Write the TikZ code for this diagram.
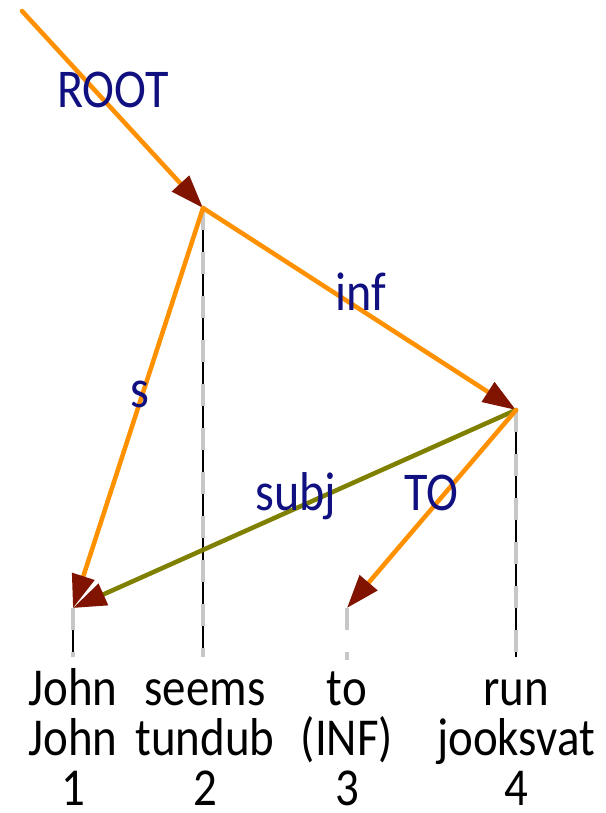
\documentclass[tikz,border=0pt]{standalone}
\usepackage{fontspec}
\newfontfamily\treefont[FakeStretch=0.88]{Carlito}
\newcommand\wordfont{\treefont\fontsize{40}{37.5}\selectfont\lineskiplimit=-40pt\relax}
\usetikzlibrary{arrows.meta}
\definecolor{edgeorange}{RGB}{255,145,0}
\definecolor{edgeolive}{RGB}{128,128,0}
\definecolor{tipred}{RGB}{128,20,0}
\definecolor{labelblue}{RGB}{16,16,128}
\tikzset{
	dep/.style={line width=3.4pt, draw=edgeorange, line cap=round,
		-{Triangle[length=25pt, width=17pt, color=tipred]}},
	deplabel/.style={anchor=base, inner sep=0pt, text=labelblue,
		font=\treefont\fontsize{41}{41}\selectfont},
	projline/.style={line width=0.8pt, draw=black},
	projdash/.style={line width=3pt, draw=black!22, dash pattern=on 16.5pt off 16.5pt},
	wordcol/.style={anchor=base, align=center, inner sep=0pt, text depth=0pt, font=\wordfont}
}
\begin{document}
\begin{tikzpicture}[x=0.75pt, y=-0.75pt]
		\useasboundingbox (0,0) rectangle (606,813);
		% Puntos de los nodos del arbol
		\coordinate (top) at (22,11);
		\coordinate (john) at (73,608);
		\coordinate (seems) at (203,208);
		\coordinate (to) at (347,608);
		\coordinate (run) at (516,410);
		% Pies de las proyecciones
		\coordinate (johnfoot) at (73,657);
		\coordinate (seemsfoot) at (203,657);
		\coordinate (tofoot) at (347,660);
		\coordinate (runfoot) at (516,657);
		% Proyecciones verticales
		\draw[projline] (john) -- (johnfoot);
		\draw[projline] (seems) -- (seemsfoot);
		\draw[projline] (run) -- (runfoot);
		\draw[projdash] (john) -- (johnfoot);
		\draw[projdash] (seems) -- (seemsfoot);
		\draw[projdash] (to) -- (tofoot);
		\draw[projdash] (run) -- (runfoot);
		% Dependencias
		\draw[dep] (top) -- (seems);
		\draw[dep] (seems) -- (run);
		\draw[dep] (seems) -- (john);
		\draw[dep, draw=edgeolive] (run) -- (john);
		\draw[dep] (run) -- (to);
		% Etiquetas de las dependencias
		\node[deplabel] (lroot) at (113,108) {ROOT};
		\node[deplabel] (linf) at (361,310) {inf};
		\node[deplabel] (ls) at (140,407) {s};
		\node[deplabel] (lsubj) at (296,510) {subj};
		\node[deplabel] (lto) at (431,510) {TO};
		% Palabras, glosas y posiciones (base = ultima linea)
		\node[wordcol] (wjohn) at (73,805) {John\\John\\1};
		\node[wordcol] (wseems) at (205,805) {seems\\tundub\\2};
		\node[wordcol] (wto) at (347,805) {to\\(INF)\\3};
		\node[wordcol] (wrun) at (516,805) {run\\jooksvat\\4};
	\end{tikzpicture}
\end{document}
